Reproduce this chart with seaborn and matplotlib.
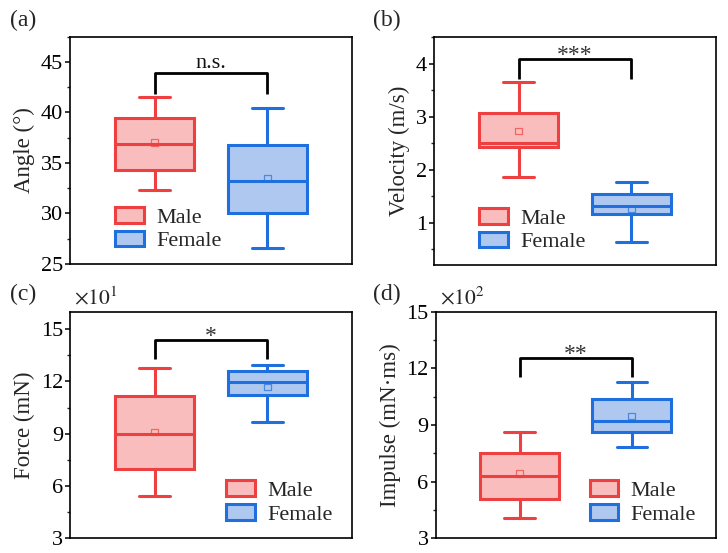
import numpy as np
import pandas as pd
import matplotlib
matplotlib.use("Agg")
import matplotlib.pyplot as plt
import seaborn as sns
from matplotlib.patches import Patch
from matplotlib.ticker import MultipleLocator

# ---------------- data ----------------
groups = ["Male", "Female"]
# five-number summaries: [lower whisker, Q1, median, Q3, upper whisker]
angle_male = [32.3, 34.3, 36.9, 39.4, 41.5]
angle_female = [26.6, 30.0, 33.2, 36.8, 40.4]
angle_mean = [37.0, 33.5]

velocity_male = [1.86, 2.42, 2.51, 3.07, 3.65]
velocity_female = [0.64, 1.17, 1.31, 1.54, 1.76]
velocity_mean = [2.73, 1.26]

force_male = [5.4, 6.95, 8.98, 11.18, 12.75]        # ×10^1 mN
force_female = [9.65, 11.22, 11.94, 12.59, 12.97]
force_mean = [9.11, 11.69]

impulse_male = [4.1, 5.07, 6.30, 7.54, 8.65]        # ×10^2 mN·ms
impulse_female = [7.82, 8.61, 9.21, 10.36, 11.29]
impulse_mean = [6.44, 9.48]

bracket_top = [43.9, 4.09, 14.37, 12.56]
bracket_leg = [41.8, 3.71, 13.26, 11.53]
sig_labels = ["n.s.", "***", "*", "**"]

panel_labels = ["(a)", "(b)", "(c)", "(d)"]
y_labels = ["Angle (°)", "Velocity (m/s)", "Force (mN)", "Impulse (mN·ms)"]
y_limits = [(25, 47.5), (0.2, 4.5), (3, 16), (3, 15)]
y_major = [5, 1, 3, 3]
y_minor = [2.5, 0.5, 1.5, 1.5]
offset_texts = [None, None, r"$\times10^{1}$", r"$\times10^{2}$"]
legend_loc = ["lower left", "lower left", "lower right", "lower right"]
legend_anchor = [(0.16, 0.055), (0.16, 0.055), (0.93, 0.06), (0.93, 0.06)]

fills = ["#F9BDBD", "#AEC8F0"]
edges = ["#EE4040", "#1F6FDE"]

# ---------------- styling ----------------
sns.set_theme(style="ticks")
plt.rcParams["font.family"] = ["Liberation Serif", "DejaVu Serif"]
plt.rcParams["mathtext.fontset"] = "stix"
plt.rcParams["axes.linewidth"] = 1.2

fig = plt.figure(figsize=(7.28, 5.53), dpi=100)
W, H = 728, 553
boxes_px = [(70, 36.5, 352, 264), (434, 37, 716, 265),
            (70, 311.7, 352, 538.3), (435.5, 311.7, 715.7, 538.3)]
panel_pos = [(10, 10), (373, 10), (10, 284), (373, 284)]

datasets = [
    (angle_male, angle_female, angle_mean),
    (velocity_male, velocity_female, velocity_mean),
    (force_male, force_female, force_mean),
    (impulse_male, impulse_female, impulse_mean),
]

for i, (male, female, means) in enumerate(datasets):
    l, t, r, b = boxes_px[i]
    ax = fig.add_axes([l / W, 1 - b / H, (r - l) / W, (b - t) / H])
    for g, vals, fc, ec in zip(groups, [male, female], fills, edges):
        sns.boxplot(x=[g] * len(vals), y=vals, order=groups, color=fc,
                    linecolor=ec, saturation=1, width=0.7, whis=(0, 100),
                    linewidth=2.2, ax=ax)
    # adjust cap widths
    for ln in ax.lines:
        xd = np.asarray(ln.get_xdata(), dtype=float)
        yd = np.asarray(ln.get_ydata(), dtype=float)
        if len(xd) == 2 and yd[0] == yd[1]:
            c = xd.mean()
            w = abs(xd[1] - xd[0])
            if w < 0.5:
                ln.set_xdata([c - 0.135, c + 0.135])
    # mean markers
    sns.scatterplot(x=groups, y=means, hue=groups, palette=edges,
                    marker="s", s=22, legend=False, ax=ax, zorder=5)
    coll = ax.collections[-1]
    coll.set_facecolor("none")
    coll.set_edgecolor([matplotlib.colors.to_rgba(e, 0.7) for e in edges])
    coll.set_linewidth(0.9)

    # significance bracket
    ax.plot([0, 0, 1, 1], [bracket_leg[i], bracket_top[i], bracket_top[i], bracket_leg[i]],
            color="black", lw=2.0, solid_capstyle="butt", zorder=6)
    lab = sig_labels[i]
    if lab.startswith("*"):
        ax.annotate(lab, (0.5, bracket_top[i]), xytext=(0, 2.5), textcoords="offset points",
                    ha="center", va="center", fontsize=17, color="#333333")
    else:
        ax.annotate(lab, (0.5, bracket_top[i]), xytext=(0, 3.5), textcoords="offset points",
                    ha="center", va="baseline", fontsize=16, color="#111111")

    ax.set_xlim(-0.75, 1.75)
    ax.set_ylim(*y_limits[i])
    ax.yaxis.set_major_locator(MultipleLocator(y_major[i]))
    ax.yaxis.set_minor_locator(MultipleLocator(y_minor[i]))
    ax.set_xticks([])
    ax.set_xlabel("")
    ax.set_ylabel(y_labels[i], fontsize=16.5)
    ax.tick_params(axis="y", which="major", direction="out", length=3.5, width=1.1,
                   labelsize=16, pad=1.5, colors="black")
    ax.tick_params(axis="y", which="minor", direction="out", length=2, width=1.0)
    for s in ax.spines.values():
        s.set_visible(True)
        s.set_color("black")
        s.set_linewidth(1.2)
    ax.grid(False)

    handles = [Patch(facecolor=fills[k], edgecolor=edges[k], linewidth=2.2, label=groups[k])
               for k in range(2)]
    ax.legend(handles=handles, loc=legend_loc[i], bbox_to_anchor=legend_anchor[i],
              frameon=False, fontsize=16, handlelength=1.3, handleheight=0.7,
              handletextpad=0.55, labelspacing=0.15, borderpad=0, borderaxespad=0)

    if offset_texts[i]:
        ax.text(0.015, 1.01, offset_texts[i], transform=ax.transAxes, ha="left",
                va="bottom", fontsize=15.5)

    px, py = panel_pos[i]
    fig.text(px / W, 1 - py / H, panel_labels[i], ha="left", va="top", fontsize=17)

fig.savefig("out.png", dpi=100)
